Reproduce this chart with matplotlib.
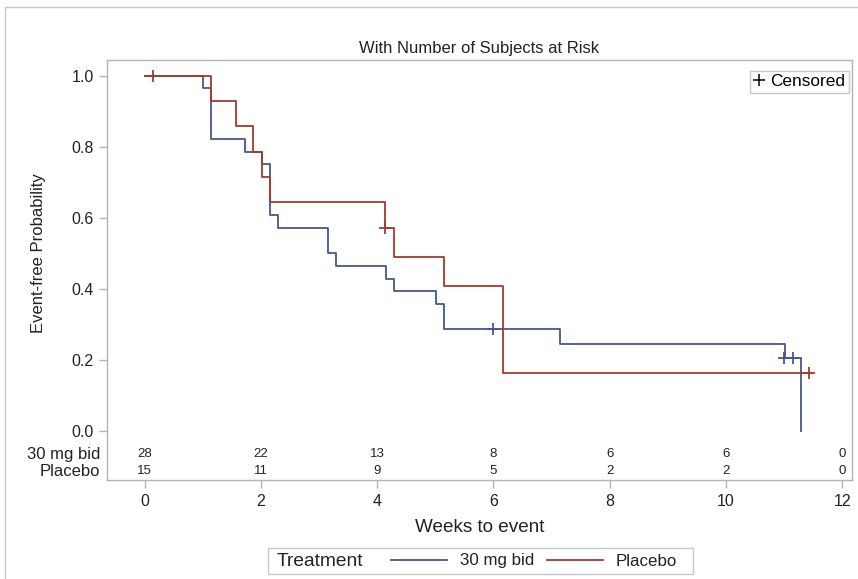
import matplotlib
import matplotlib.pyplot as plt
from matplotlib.lines import Line2D
from matplotlib.patches import Rectangle

matplotlib.use("Agg")

plt.rcParams["font.family"] = ["Liberation Sans", "DejaVu Sans"]

# Kaplan-Meier step data
bid_times = [0, 1.0, 1.15, 1.72, 2.02, 2.16, 2.29, 3.15, 3.30, 4.15, 4.29, 5.01, 5.15, 7.15, 11.02, 11.29]
bid_surv = [1.0, 0.964, 0.821, 0.786, 0.750, 0.607, 0.571, 0.500, 0.464, 0.429, 0.393, 0.357, 0.286, 0.245, 0.204, 0.0]
bid_cens_t = [6.0, 11.0, 11.15]
bid_cens_s = [0.286, 0.204, 0.204]

pbo_times = [0, 1.15, 1.57, 1.87, 2.02, 2.16, 4.14, 4.29, 5.15, 6.16, 11.48]
pbo_surv = [1.0, 0.929, 0.857, 0.786, 0.714, 0.643, 0.571, 0.490, 0.408, 0.163, 0.163]
pbo_cens_t = [0.14, 4.14, 11.43]
pbo_cens_s = [1.0, 0.571, 0.163]

# number at risk table
risk_weeks = [0, 2, 4, 6, 8, 10, 12]
risk_bid = [28, 22, 13, 8, 6, 6, 0]
risk_pbo = [15, 11, 9, 5, 2, 2, 0]

BLUE = "#445694"
RED = "#A23A2E"
GRID = "#b4b4b4"
TXT = "#222222"

fig = plt.figure(figsize=(8.58, 5.79), dpi=100)
ax = fig.add_axes([0.1244, 0.171, 0.8686, 0.7254])

# outer graph border
fig.patches.append(
    Rectangle((5 / 858, -0.1), 2.0, 1.1 - 7 / 579, transform=fig.transFigure,
              fill=False, edgecolor="#c8c8c8", linewidth=1.0)
)

ax.step(bid_times, bid_surv, where="post", color=BLUE, linewidth=1.3)
ax.step(pbo_times, pbo_surv, where="post", color=RED, linewidth=1.3)
ax.plot(bid_cens_t, bid_cens_s, "+", color=BLUE, markersize=8, markeredgewidth=1.3)
ax.plot(pbo_cens_t, pbo_cens_s, "+", color=RED, markersize=8, markeredgewidth=1.3)

ax.set_xlim(-0.65, 12.17)
ax.set_ylim(-0.138, 1.044)
ax.set_xticks(risk_weeks)
ax.set_yticks([0.0, 0.2, 0.4, 0.6, 0.8, 1.0])
ax.set_yticklabels(["0.0", "0.2", "0.4", "0.6", "0.8", "1.0"])
ax.tick_params(axis="both", colors=GRID, labelcolor=TXT, labelsize=11.5, length=6, width=1)
ax.tick_params(axis="x", pad=4)
for spine in ax.spines.values():
    spine.set_color(GRID)
    spine.set_linewidth(1.0)

ax.set_title("With Number of Subjects at Risk", fontsize=12, color=TXT, pad=5)
ax.set_xlabel("Weeks to event", fontsize=13.6, color=TXT, labelpad=7)
ax.set_ylabel("Event-free Probability", fontsize=12, color=TXT)
ax.yaxis.set_label_coords(-0.081, 0.54)

# at-risk rows inside the plot area
for w, nb, npb in zip(risk_weeks, risk_bid, risk_pbo):
    ax.text(w, -0.066, str(nb), ha="center", va="center", fontsize=9.5, color=TXT)
    ax.text(w, -0.113, str(npb), ha="center", va="center", fontsize=9.5, color=TXT)
ytr = ax.get_yaxis_transform()
ax.text(-0.009, -0.066, "30 mg bid", transform=ytr, ha="right", va="center", fontsize=12, color=TXT)
ax.text(-0.009, -0.113, "Placebo", transform=ytr, ha="right", va="center", fontsize=12, color=TXT)

# censored legend
cens = Line2D([], [], marker="+", color="black", linestyle="none", markersize=8, markeredgewidth=1.1)
ax.legend([cens], ["Censored"], loc="upper right", bbox_to_anchor=(849 / 858, 1 - 71 / 579),
          bbox_transform=fig.transFigure, fontsize=12.4, handlelength=0.6,
          handletextpad=0.4, borderpad=0.2, borderaxespad=0, fancybox=False,
          edgecolor="#c8c8c8", framealpha=1)

# treatment legend below the plot
fig.patches.append(
    Rectangle((268 / 858, 5 / 579), 425 / 858, 26 / 579, transform=fig.transFigure,
              fill=False, edgecolor="#c8c8c8", linewidth=1.0)
)
fig.text(277 / 858, 1 - 561 / 579, "Treatment", ha="left", va="center", fontsize=13.8, color=TXT)
h_bid = Line2D([], [], color=BLUE, linewidth=1.3)
h_pbo = Line2D([], [], color=RED, linewidth=1.3)
fig.legend([h_bid, h_pbo], ["30 mg bid", "Placebo"], loc="center left",
           bbox_to_anchor=(391 / 858, 1 - 561 / 579), ncol=2, frameon=False,
           fontsize=12.2, handlelength=3.3, handletextpad=0.76, columnspacing=0.76,
           borderpad=0, borderaxespad=0, labelcolor=TXT)

fig.savefig("out.png", dpi=100)
plt.close(fig)
